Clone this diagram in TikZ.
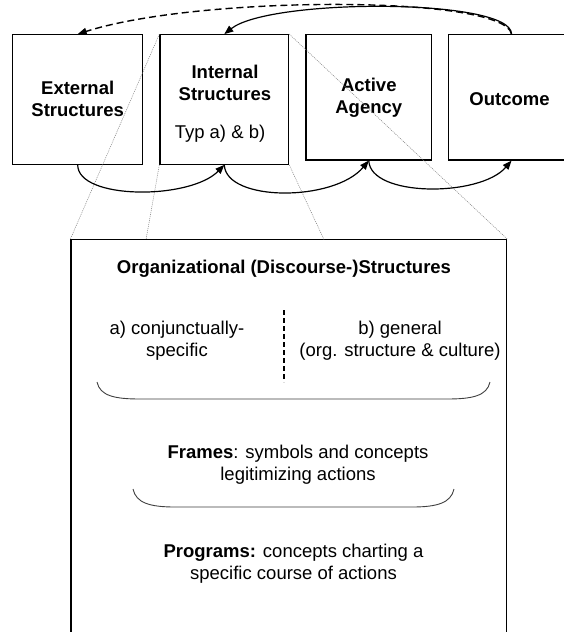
\documentclass[tikz,border=0pt]{standalone}
\usepackage{fontspec}
\setmainfont{Liberation Sans}
\usetikzlibrary{arrows.meta}
\begin{document}
\begin{tikzpicture}[x=1pt,y=-1pt,
  box/.style={draw, line width=1.2pt, inner sep=0pt},
  txt/.style={align=center, font=\fontsize{18.5}{22}\selectfont, inner sep=0pt},
  btxt/.style={align=center, font=\fontsize{18.5}{22}\selectfont\bfseries, inner sep=0pt},
  flow/.style={line width=1.2pt, -{Triangle[length=9pt,width=7pt]}},
  back/.style={line width=1.4pt, dash pattern=on 7pt off 4pt, -{Triangle[length=9pt,width=7pt]}},
  zoomline/.style={gray, line width=0.5pt, dash pattern=on 1pt off 1pt},
  bracket/.style={draw=black!75, line width=0.9pt},
  sep/.style={line width=1.5pt, dash pattern=on 5pt off 3pt}]
\clip (0,0) rectangle (564,632);
\fill[white] (0,0) rectangle (564,632);

% top row boxes
\node[box, minimum width=130pt, minimum height=129.6pt] (ext) at (77.7,99.5) {};
\node[btxt] (exttxt) at (77.7,98.5) {External\\Structures};
\node[box, minimum width=128.7pt, minimum height=129.6pt] (int) at (224.3,99.5) {};
\node[btxt] (inttxt) at (225,83) {Internal\\Structures};
\node[txt] (typ) at (220,133.3) {Typ a) \& b)};
\node[box, minimum width=125.7pt, minimum height=125.3pt] (act) at (368.8,97.35) {};
\node[btxt] (acttxt) at (368.8,98) {Active\\Agency};
\node[box, minimum width=126pt, minimum height=125.3pt] (out) at (511.5,97.35) {};
\node[btxt] (outtxt) at (509.5,99) {Outcome};

% big box
\node[box, minimum width=435.7pt, minimum height=480pt] (org) at (288.85,479.7) {};
\coordinate (o1) at (146,239.7);
\coordinate (o2) at (324,239.7);

% zoom lines
\draw[zoomline] (int.north west) -- (org.north west);
\draw[zoomline] (int.south west) -- (o1);
\draw[zoomline] (int.south east) -- (o2);
\draw[zoomline] (int.north east) -- (org.north east);

% bottom flow arrows
\draw[flow] (ext.south) .. controls (77.7,200) and (190,200) .. (int.south);
\draw[flow] (int.south) .. controls (226,202) and (334,202) .. (act.south);
\draw[flow] (act.south) .. controls (370,197.3) and (480,197.3) .. (out.south);

% top feedback arrows
\draw[back] (out.north) .. controls (505,-5) and (200,-5) .. (ext.north);
\draw[flow] (out.north) .. controls (512,-2) and (270,-2) .. (int.north);

% contents of the big box
\node[btxt] (head) at (284,269) {Organizational (Discourse-)Structures};
\node[txt] (spec) at (177,340.5) {a) conjunctually-\\specific};
\node[txt] (gen) at (400,340.5) {b) general\\(org. structure \& culture)};
\coordinate (s1) at (284,310);
\coordinate (s2) at (284,382);
\draw[sep] (s1) -- (s2);
\draw[bracket] (97,382) .. controls (100,396) and (115,399) .. (140,399) -- (447,399)
  .. controls (472,399) and (487,396) .. (490,382);
\node[txt] (frames) at (298,465) {\textbf{Frames}: symbols and concepts\\legitimizing actions};
\draw[bracket] (133,489) .. controls (136,503) and (150,507) .. (175,507) -- (412,507)
  .. controls (437,507) and (451,503) .. (454,489);
\node[txt] (prog) at (293.5,563.5) {\textbf{Programs:} concepts charting a\\specific course of actions};
\end{tikzpicture}
\end{document}
